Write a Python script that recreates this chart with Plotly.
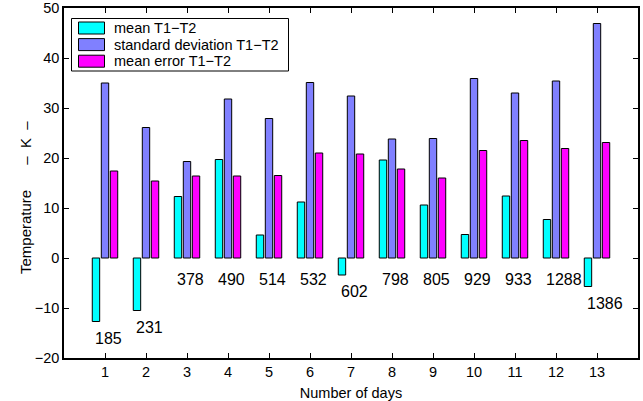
import plotly.graph_objects as go

days = list(range(1, 14))
mean_t1t2 = [-12.7, -10.5, 12.3, 19.7, 4.6, 11.2, -3.4, 19.6, 10.6, 4.7, 12.4, 7.7, -5.7]
std_t1t2 = [35.0, 26.1, 19.3, 31.8, 27.9, 35.1, 32.4, 23.8, 23.9, 35.9, 33.0, 35.4, 46.9]
err_t1t2 = [17.4, 15.4, 16.4, 16.4, 16.5, 21.0, 20.8, 17.8, 16.0, 21.5, 23.5, 21.9, 23.1]
day_labels = ["185", "231", "378", "490", "514", "532", "602", "798", "805", "929", "933", "1288", "1386"]
series_names = ["mean T1\u2212T2", "standard deviation T1\u2212T2", "mean error T1\u2212T2"]
series_colors = ["#00FFFF", "#8080FF", "#FF00FF"]
NB = "\u00a0"
y_title = "Temperature" + NB * 6 + "\u2013" + NB * 2 + "K" + NB * 2 + "\u2013"
x_title = "Number of days"

FONT = "Liberation Sans, Arial, Helvetica, sans-serif"
FS = 14.5
W, H = 643, 401
ML, MR, MT, MB = 64, 5, 8, 43
PW, PH = W - ML - MR, H - MT - MB

line = dict(color="black", width=1)

fig = go.Figure()
for vals, name, col in zip([mean_t1t2, std_t1t2, err_t1t2], series_names, series_colors):
    fig.add_trace(go.Bar(x=days, y=vals, name=name, showlegend=False,
                         marker=dict(color=col, line=line)))

for d, m, lab in zip(days, mean_t1t2, day_labels):
    off = 3.3 if m < 0 else 4.2
    fig.add_annotation(x=d - 0.3, y=min(m, 0) - off, text=lab, showarrow=False,
                       xanchor="left", yanchor="middle",
                       font=dict(family=FONT, size=16, color="black"))

# helpers: pixel position -> plot-area (paper) fraction
def px(xp):
    return (xp - ML) / PW

def py(yp):
    return (H - MB - yp) / PH

# legend box, MATLAB style
fig.add_shape(type="rect", xref="paper", yref="paper",
              x0=px(71.5), x1=px(288.5), y0=py(71), y1=py(18.5),
              line=dict(color="black", width=1), fillcolor="white", layer="above")
for i, (name, col) in enumerate(zip(series_names, series_colors)):
    yc = 28 + i * 16.6
    fig.add_shape(type="rect", xref="paper", yref="paper",
                  x0=px(78.5), x1=px(104.5), y0=py(yc + 6), y1=py(yc - 6),
                  line=dict(color="black", width=1), fillcolor=col, layer="above")
    fig.add_annotation(xref="paper", yref="paper", x=px(112), y=py(yc), text=name,
                       showarrow=False, xanchor="left", yanchor="middle",
                       font=dict(family=FONT, size=FS, color="black"))

# y-axis title
fig.add_annotation(xref="paper", yref="paper", x=px(25), y=py(198), text=y_title,
                   textangle=-90, showarrow=False, xanchor="center", yanchor="middle",
                   font=dict(family=FONT, size=15, color="black"))

axis_common = dict(showline=True, linecolor="black", linewidth=1.5, mirror="ticks",
                   ticks="inside", ticklen=5, tickcolor="black", tickwidth=1,
                   showgrid=False, zeroline=False, automargin=False,
                   ticklabeloverflow="allow",
                   tickfont=dict(family=FONT, size=FS, color="black"))

fig.update_layout(
    width=W, height=H,
    margin=dict(l=ML, r=MR, t=MT, b=MB),
    barmode="group", bargap=0.34, bargroupgap=0.18,
    plot_bgcolor="white", paper_bgcolor="white",
    font=dict(family=FONT, size=FS, color="black"),
    showlegend=False,
    xaxis=dict(range=[0, 14], tickvals=days, ticktext=[str(d) for d in days],
               title=dict(text=x_title, font=dict(family=FONT, size=FS)),
               **axis_common),
    yaxis=dict(range=[-20, 50], dtick=10, tick0=0, **axis_common),
)

fig.write_html("out.html", config={"displayModeBar": False},
               post_script="document.body.style.margin='0';document.body.style.overflow='hidden';")
